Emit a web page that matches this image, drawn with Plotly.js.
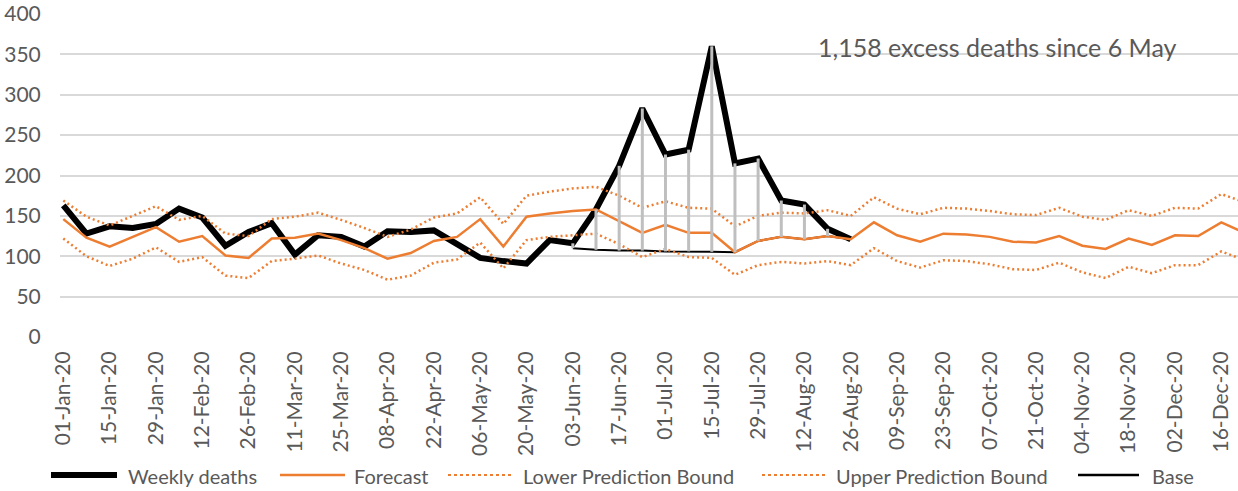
<!DOCTYPE html>
<html>
<head>
<meta charset="utf-8">
<script src="https://cdn.plot.ly/plotly-3.0.1.min.js"></script>
<style>html,body{margin:0;padding:0;background:#fff;}#chart{width:1238px;height:491px;}</style>
</head>
<body>
<div id="chart"></div>
<script>
const weeks = ["01-Jan-20","08-Jan-20","15-Jan-20","22-Jan-20","29-Jan-20","05-Feb-20","12-Feb-20","19-Feb-20","26-Feb-20","04-Mar-20","11-Mar-20","18-Mar-20","25-Mar-20","01-Apr-20","08-Apr-20","15-Apr-20","22-Apr-20","29-Apr-20","06-May-20","13-May-20","20-May-20","27-May-20","03-Jun-20","10-Jun-20","17-Jun-20","24-Jun-20","01-Jul-20","08-Jul-20","15-Jul-20","22-Jul-20","29-Jul-20","05-Aug-20","12-Aug-20","19-Aug-20","26-Aug-20","02-Sep-20","09-Sep-20","16-Sep-20","23-Sep-20","30-Sep-20","07-Oct-20","14-Oct-20","21-Oct-20","28-Oct-20","04-Nov-20","11-Nov-20","18-Nov-20","25-Nov-20","02-Dec-20","09-Dec-20","16-Dec-20","23-Dec-20"];

const tickLabels = ["01-Jan-20","15-Jan-20","29-Jan-20","12-Feb-20","26-Feb-20","11-Mar-20","25-Mar-20","08-Apr-20","22-Apr-20","06-May-20","20-May-20","03-Jun-20","17-Jun-20","01-Jul-20","15-Jul-20","29-Jul-20","12-Aug-20","26-Aug-20","09-Sep-20","23-Sep-20","07-Oct-20","21-Oct-20","04-Nov-20","18-Nov-20","02-Dec-20","16-Dec-20"];

const weeklyDeaths = [163,128,137,135,140,159,148,113,130,141,102,126,124,112,131,130,132,114,98,94,91,120,116,158,212,283,226,232,360,215,221,169,164,134,121,
  null,null,null,null,null,null,null,null,null,null,null,null,null,null,null,null,null];

const forecast = [146,123,112,124,136,118,125,101,98,122,123,128,120,110,97,104,119,124,146,112,149,153,156,158,143,129,139,129,129,105,119,124,121,125,121,142,126,118,128,127,124,118,117,125,113,109,122,114,126,125,142,129];

const lowerBound = [122,100,88,97,111,93,99,76,73,94,97,101,91,83,71,76,92,96,117,85,120,124,126,128,115,99,109,99,98,77,89,93,91,94,89,110,94,86,95,94,90,84,83,92,80,73,87,79,89,89,106,95];

const upperBound = [169,149,138,150,162,145,150,128,125,146,149,154,145,135,124,133,148,153,173,140,175,180,184,186,175,160,168,160,159,137,150,154,153,157,150,173,159,152,160,159,156,152,151,160,149,145,157,150,160,159,177,167];

const base = [null,null,null,null,null,null,null,null,null,null,null,null,null,null,null,null,null,null,null,null,null,null,
  110,108,107,107,106,106,105.5,105,119,124,121,125,121,
  null,null,null,null,null,null,null,null,null,null,null,null,null,null,null,null,null];

const seriesNames = ["Weekly deaths","Forecast","Lower Prediction Bound","Upper Prediction Bound","Base"];
const annotationText = "1,158 excess deaths since 6 May";

const ORANGE = "#ED7D31";
const TEXT = "#595959";
const FONT = "Lato, 'Open Sans', sans-serif";

// drop lines between base and weekly deaths
const dropX = [], dropY = [];
for (let i = 0; i < weeks.length; i++) {
  if (base[i] != null && weeklyDeaths[i] != null) {
    dropX.push(weeks[i], weeks[i], null);
    dropY.push(base[i], weeklyDeaths[i], null);
  }
}

const traces = [
  {x: weeks, y: weeklyDeaths, name: seriesNames[0], type: "scatter", mode: "lines",
   line: {color: "#000000", width: 6, shape: "linear"}, connectgaps: false, showlegend: false},
  {x: weeks, y: base, name: seriesNames[4], type: "scatter", mode: "lines",
   line: {color: "#000000", width: 2}, showlegend: false},
  {x: weeks, y: forecast, name: seriesNames[1], type: "scatter", mode: "lines",
   line: {color: ORANGE, width: 2.5}, showlegend: false},
  {x: weeks, y: lowerBound, name: seriesNames[2], type: "scatter", mode: "lines",
   line: {color: ORANGE, width: 2.5, dash: "2px,3px"}, showlegend: false},
  {x: weeks, y: upperBound, name: seriesNames[3], type: "scatter", mode: "lines",
   line: {color: ORANGE, width: 2.5, dash: "2px,3px"}, showlegend: false},
  {x: dropX, y: dropY, name: "excess", type: "scatter", mode: "lines",
   line: {color: "#BFBFBF", width: 3}, showlegend: false, hoverinfo: "skip"}
];

// custom legend (paper coordinates)
const L = 60, W = 1178, T = 14, H = 323;
const px = v => (v - L) / W;
const py = v => (T + H - v) / H;
const legY = 475;
const legItems = [
  {x0: 51, x1: 117, text: 126, color: "#000000", width: 6, dash: "solid"},
  {x0: 280, x1: 345, text: 352, color: ORANGE, width: 2.5, dash: "solid"},
  {x0: 448, x1: 513, text: 521, color: ORANGE, width: 2, dash: "dot"},
  {x0: 762, x1: 825, text: 834, color: ORANGE, width: 2, dash: "dot"},
  {x0: 1078, x1: 1139, text: 1150, color: "#000000", width: 2.5, dash: "solid"}
];
const shapes = legItems.map(it => ({
  type: "line", xref: "paper", yref: "paper",
  x0: px(it.x0), x1: px(it.x1), y0: py(legY), y1: py(legY),
  line: {color: it.color, width: it.width, dash: it.dash}
}));
const annotations = legItems.map((it, k) => ({
  xref: "paper", yref: "paper", x: px(it.text), y: py(legY + 1),
  xanchor: "left", yanchor: "middle", showarrow: false,
  text: seriesNames[k], font: {family: FONT, size: 20, color: TEXT}
}));
annotations.push({
  xref: "paper", yref: "paper", x: px(816), y: py(47),
  xanchor: "left", yanchor: "middle", showarrow: false,
  text: annotationText, font: {family: FONT, size: 25, color: TEXT}
});

const layout = {
  width: 1238, height: 491,
  margin: {l: L, r: 0, t: T, b: 491 - T - H, pad: 0},
  paper_bgcolor: "#ffffff", plot_bgcolor: "#ffffff",
  showlegend: false,
  xaxis: {
    type: "category", categoryorder: "array", categoryarray: weeks,
    range: [-0.142, 50.72],
    tickmode: "array", tickvals: tickLabels, ticktext: tickLabels,
    tickangle: -90, showgrid: false, zeroline: false, showline: false,
    ticks: "outside", ticklen: 5, tickcolor: "rgba(0,0,0,0)",
    tickfont: {family: FONT, size: 21, color: TEXT}
  },
  yaxis: {
    range: [0, 400], tickmode: "array", tickvals: [0,50,100,150,200,250,300,350,400],
    showgrid: true, gridcolor: "#D9D9D9", gridwidth: 2, zeroline: false, showline: false,
    ticks: "outside", ticklen: 14, tickcolor: "rgba(0,0,0,0)",
    tickfont: {family: FONT, size: 21, color: TEXT}
  },
  shapes: shapes,
  annotations: annotations,
  font: {family: FONT, color: TEXT}
};

Plotly.newPlot("chart", traces, layout, {staticPlot: true, displayModeBar: false});
</script>
</body>
</html>
